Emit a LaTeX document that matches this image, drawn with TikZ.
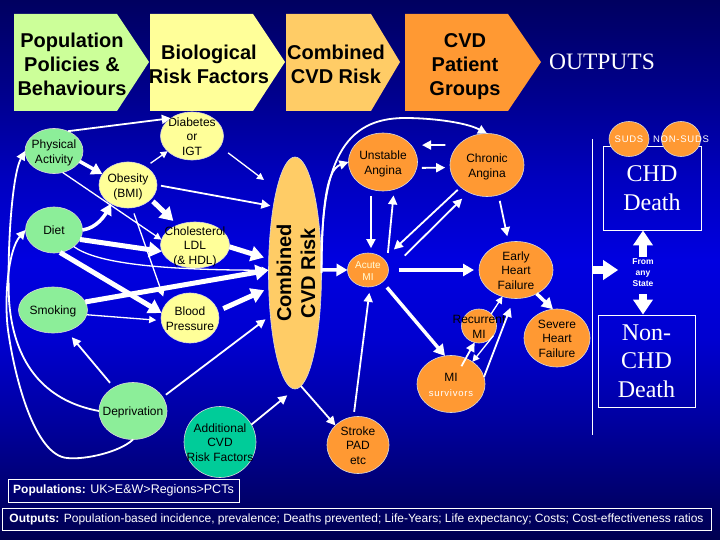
\documentclass[tikz,border=0pt]{standalone}
\usepackage{fontspec}
\setmainfont{Liberation Sans}
\newfontfamily\timesface{Liberation Serif}
\usetikzlibrary{shapes.geometric,arrows.meta}

\definecolor{skya}{HTML}{000050}
\definecolor{skyb}{HTML}{000078}
\definecolor{skyc}{HTML}{0000A0}
\definecolor{skyd}{HTML}{0000D0}
\definecolor{skye}{HTML}{0000E0}
\definecolor{skyf}{HTML}{0000C0}
\definecolor{skyg}{HTML}{000090}
\definecolor{skyh}{HTML}{000060}
\definecolor{policygreen}{HTML}{CCFF99}
\definecolor{nodegreen}{HTML}{8CEE99}
\definecolor{riskyellow}{HTML}{FFFF99}
\definecolor{riskorange}{HTML}{FFCC66}
\definecolor{cvdorange}{HTML}{FF9933}
\definecolor{extrateal}{HTML}{00CC99}
\pgfdeclareverticalshading{slideblue}{100bp}{color(0bp)=(skya); color(25bp)=(skya); color(30.56bp)=(skyb); color(36.1bp)=(skyc); color(43.52bp)=(skyd); color(50.93bp)=(skye); color(58.33bp)=(skyf); color(65.74bp)=(skyg); color(75bp)=(skyh); color(100bp)=(skyh)}

% text that may run over the edge of its ellipse
\newcommand{\mtext}[1]{\smash{\makebox[0pt]{\raisebox{-.42em}{\begin{tabular}{@{}c@{}}#1\end{tabular}}}}}
\newcommand{\spaced}{\addfontfeature{LetterSpace=8}}

\tikzstyle{state}=[ellipse,draw=white!85!black,line width=0.6pt,inner sep=0pt,outer sep=0pt,text=black,font=\fontsize{12}{14.5}\selectfont]
\tikzstyle{banner}=[inner sep=0pt,align=center,font=\fontsize{20}{24}\selectfont\bfseries]
\tikzstyle{whitebox}=[draw=white,line width=0.8pt,text=white,inner sep=0pt]
\tikzstyle{deathtext}=[font=\fontsize{24}{28.5}\timesface\selectfont,align=center]
\tikzstyle{thin}=[draw=white,line width=1.3pt,-{Triangle[length=7pt,width=7pt]}]
\tikzstyle{medium}=[draw=white,line width=1.8pt,-{Triangle[length=9pt,width=9pt]}]
\tikzstyle{heavy}=[draw=white,line width=3.5pt,-{Triangle[length=11pt,width=12pt]}]
\tikzstyle{fat}=[draw=white,line width=5pt,-{Triangle[length=13pt,width=15pt]}]
\tikzstyle{block}=[draw=white,line width=8pt,-{Triangle[length=15pt,width=19pt]}]

\begin{document}
\begin{tikzpicture}[x=1pt,y=-1pt]
	\path [use as bounding box,shade,shading=slideblue] (0,0) rectangle (720,540);

	% banners
	\fill [policygreen] (14,14)  -- (117,14) -- (149,62) -- (117,111) -- (14,111)  -- cycle;
	\fill [riskyellow]  (150,14) -- (253,14) -- (285,62) -- (253,111) -- (150,111) -- cycle;
	\fill [riskorange]  (286,14) -- (371,14) -- (400,62) -- (371,111) -- (286,111) -- cycle;
	\fill [cvdorange]   (405,14) -- (508,14) -- (541,62) -- (508,111) -- (405,111) -- cycle;
	\node [banner] (policy)   at (72,64)  {Population\\Policies \&\\Behaviours};
	\node [banner] (biology)  at (209,64) {Biological\\Risk Factors};
	\node [banner] (combined) at (336,64) {Combined\\CVD Risk};
	\node [banner] (patients) at (465,67) {CVD\\Patient\\Groups};
	\node [text=white,font=\fontsize{23.5}{28}\timesface\selectfont] (outputs) at (602,62) {OUTPUTS};

	% death boxes
	\coordinate (walltop) at (592,139);
	\coordinate (wallmid) at (592,270);
	\coordinate (wallend) at (592,435);
	\draw [white,line width=0.8pt] (walltop) -- (wallend);
	\node [whitebox,deathtext,minimum width=98pt,minimum height=84pt] (chd)    at (652,188) {CHD\\Death};
	\node [whitebox,deathtext,minimum width=97pt,minimum height=92pt] (nonchd) at (646.5,361) {Non-\\CHD\\Death};

	% risk factors
	\node [state,fill=nodegreen,minimum width=58pt,minimum height=45pt] (activity)  at (54,151)  {\mtext{Physical\\Activity}};
	\node [state,fill=nodegreen,minimum width=57pt,minimum height=46pt] (diet)      at (54,230)  {\mtext{Diet}};
	\node [state,fill=nodegreen,minimum width=69pt,minimum height=46pt] (smoking)   at (53,310)  {\mtext{Smoking}};
	\node [state,fill=nodegreen,minimum width=68pt,minimum height=57pt] (depriv)    at (133,411) {\mtext{Deprivation}};
	\node [state,fill=extrateal,minimum width=72pt,minimum height=71pt] (additional) at (220,442) {\mtext{Additional\\CVD\\Risk Factors}};
	\node [state,fill=riskyellow,minimum width=63pt,minimum height=48pt] (diabetes) at (192,136) {\mtext{Diabetes\\or\\IGT}};
	\node [state,fill=riskyellow,minimum width=58pt,minimum height=46pt] (obesity)  at (128,185) {\mtext{Obesity\\(BMI)}};
	\node [state,fill=riskyellow,minimum width=69pt,minimum height=46pt] (cholest)  at (195,245) {\mtext{Cholesterol\\LDL\\(\& HDL)}};
	\node [state,fill=riskyellow,minimum width=58pt,minimum height=50pt] (pressure) at (190,318) {\mtext{Blood\\Pressure}};
	\node [state,fill=riskorange,minimum width=53pt,minimum height=232pt] (risk)    at (295,273) {};
	\node [rotate=90,banner,font=\fontsize{20}{24}\selectfont\bfseries] (risktext) at (296,273) {Combined\\CVD Risk};
	\coordinate (riskin) at (264,180);

	% patient groups
	\node [state,fill=cvdorange,minimum width=69pt,minimum height=58pt] (unstable)  at (383,162) {\mtext{Unstable\\Angina}};
	\node [state,fill=cvdorange,minimum width=74pt,minimum height=63pt] (chronic)   at (487,165) {\mtext{Chronic\\Angina}};
	\node [state,fill=cvdorange,minimum width=41pt,minimum height=34pt,text=white!85!yellow,font=\fontsize{10}{12}\selectfont] (acute) at (368,270) {\mtext{Acute\\MI}};
	\node [state,fill=cvdorange,minimum width=74pt,minimum height=57pt] (early)     at (516,270) {\mtext{Early\\Heart\\Failure}};
	\node [state,fill=cvdorange,minimum width=35pt,minimum height=34pt] (recurrent) at (479,326) {\mtext{Recurrent\\MI}};
	\node [state,fill=cvdorange,minimum width=66pt,minimum height=58pt] (severe)    at (557,338) {\mtext{Severe\\Heart\\Failure}};
	\node [state,fill=cvdorange,minimum width=68pt,minimum height=57pt] (survivors) at (451,384) {\mtext{MI\\{\color{white}\fontsize{9.5}{11}\selectfont\spaced survivors}}};
	\node [state,fill=cvdorange,minimum width=62pt,minimum height=57pt] (stroke)    at (358,445) {\mtext{Stroke\\PAD\\etc}};
	\node [state,fill=cvdorange,minimum width=40pt,minimum height=35pt,text=white,font=\fontsize{9.5}{11}\selectfont\spaced] (suds)    at (629,139) {\mtext{SUDS}};
	\node [state,fill=cvdorange,minimum width=39pt,minimum height=35pt,text=white,font=\fontsize{9.5}{11}\selectfont\spaced] (nonsuds) at (681,139) {\mtext{NON-SUDS}};
	\node [text=white,inner sep=0pt,align=center,font=\fontsize{8.5}{11}\selectfont\bfseries] (fromany) at (643,273) {From\\any\\State};

	% bottom boxes
	\node [whitebox,minimum width=231pt,minimum height=23pt,font=\fontsize{12}{14}\selectfont] (populations) at (123.5,490.5) {\textbf{Populations:} \fontsize{12.5}{14}\selectfont UK>E\&W>Regions>PCTs};
	\node [whitebox,minimum width=709pt,minimum height=22pt,font=\fontsize{12}{14}\selectfont] (results) at (356.5,519) {\textbf{Outputs:} Population-based incidence, prevalence; Deaths prevented; Life-Years; Life expectancy; Costs; Cost-effectiveness ratios};

	% risk factor links
	\draw [medium] (activity.55) -- (diabetes.140);
	\draw [heavy] (activity.-22) -- (obesity.157);
	\draw [thin] (activity.-68) -- (cholest.171);
	\draw [thin,shorten <=6pt] (obesity.46) -- (diabetes.212);
	\draw [thin,shorten <=10pt] (diabetes.-21) -- (riskin);
	\draw [medium,shorten <=4pt,shorten >=3pt] (obesity.east) -- (risk.108);
	\draw [fat,shorten <=3pt,shorten >=6pt] (obesity.-32) -- (cholest.131);
	\draw [thin,shorten <=6pt,shorten >=8pt] (obesity.-80) -- (pressure.150);
	\draw [heavy] (diet.east) .. controls (97,228) and (105,215) .. (obesity.228);
	\draw [fat] (diet.-20) -- (cholest.191);
	\draw [thin] (diet.-40) .. controls (95,262) and (150,270) .. (risk.174);
	\draw [fat] (diet.-75) -- (pressure.170);
	\draw [fat] (smoking.14) -- (risk.174);
	\draw [thin,shorten >=5pt] (smoking.-8) -- (pressure.185);
	\draw [fat,shorten >=5pt] (cholest.-3) -- (risk.152);
	\draw [fat,shorten <=6pt,shorten >=5pt] (pressure.14) -- (risk.210);
	\draw [medium,shorten <=6pt,shorten >=8pt] (depriv.129) -- (smoking.-57);
	\draw [medium,shorten <=4pt,shorten >=6pt] (depriv.25) -- (risk.240);
	\draw [medium] (depriv.west) .. controls (67,405) and (15,385) .. (9,300) .. controls (7,250) and (12,175) .. (activity.west);
	\draw [medium] (depriv.south) .. controls (120,452) and (85,460) .. (67,458) .. controls (35,455) and (15,380) .. (8,330) .. controls (4,300) and (8,250) .. (diet.west);
	\draw [medium,shorten >=10pt] (additional.29) -- (risk.south);
	\draw [medium] (risk.-87) -- (stroke.139);

	% patient group links
	\draw [medium] (risk.east) .. controls (322,215) and (325,170) .. (unstable.west);
	\draw [medium] (risk.east) .. controls (320,160) and (345,118) .. (405,118) .. controls (430,118) and (465,122) .. (chronic.north);
	\draw [heavy] (risk.7) -- (acute.west);
	\draw [medium,shorten <=13pt,shorten >=11pt] (chronic.145) -- (unstable.31);
	\draw [medium,shorten <=5pt,shorten >=5pt] (unstable.-10) -- (chronic.184);
	\draw [medium,shorten <=7pt,shorten >=5pt] (unstable.-114) -- (acute.80);
	\draw [medium,shorten <=5pt,shorten >=6pt] ([xshift=5pt]acute.40) -- (unstable.-68);
	\draw [medium,shorten <=4pt,shorten >=14pt] (chronic.220) -- (acute.35);
	\draw [medium,shorten <=23pt,shorten >=9pt] (acute.-5) -- (chronic.236);
	\draw [medium,shorten <=6pt,shorten >=6pt] (chronic.-69) -- (early.105);
	\draw [heavy,shorten <=10pt,shorten >=5pt] (acute.east) -- (early.west);
	\draw [heavy,shorten <=7pt] (acute.-40) -- (survivors.102);
	\draw [medium,shorten <=5pt,shorten >=6pt] (stroke.99) -- (acute.-83);
	\draw [medium,shorten <=-9pt] (survivors.60) -- (recurrent.-105);
	\draw [thin] (recurrent.-34) -- (survivors.46);
	\draw [thin] (recurrent.45) -- (early.243);
	\draw [medium,shorten >=10pt] (survivors.12) -- (early.-94);
	\draw [heavy] (early.-49) -- (severe.98);

	% block arrows round the death boxes
	\draw [block,shorten <=2pt] (fromany.north) -- (fromany |- chd.south);
	\draw [block,shorten <=7pt] (fromany.south) -- (fromany |- nonchd.north);
	\draw [block,shorten >=14pt] (wallmid) -- (wallmid -| fromany.west);
\end{tikzpicture}
\end{document}
